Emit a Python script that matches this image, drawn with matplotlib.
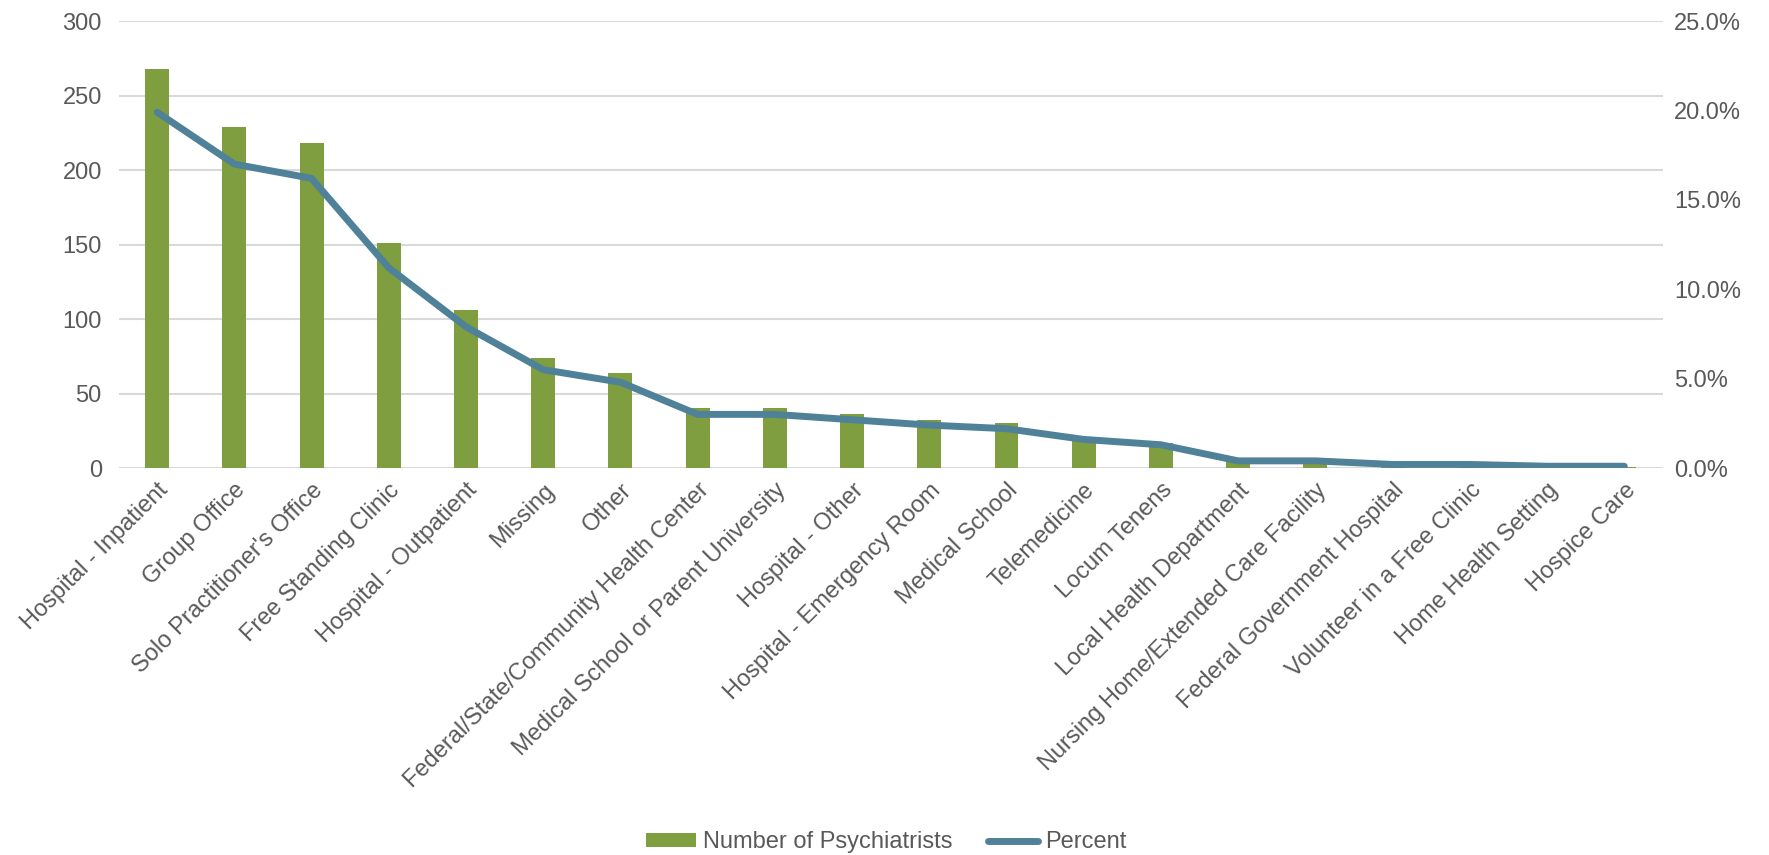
import matplotlib
matplotlib.use("Agg")
import matplotlib.pyplot as plt
from matplotlib.ticker import FuncFormatter, MultipleLocator
from matplotlib.patches import Patch
from matplotlib.lines import Line2D

categories = ["Hospital - Inpatient", "Group Office", "Solo Practitioner's Office",
              "Free Standing Clinic", "Hospital - Outpatient", "Missing", "Other",
              "Federal/State/Community Health Center", "Medical School or Parent University",
              "Hospital - Other", "Hospital - Emergency Room", "Medical School",
              "Telemedicine", "Locum Tenens", "Local Health Department",
              "Nursing Home/Extended Care Facility", "Federal Government Hospital",
              "Volunteer in a Free Clinic", "Home Health Setting", "Hospice Care"]
counts = [268, 229, 218, 151, 106, 74, 64, 40, 40, 36, 32, 30, 21, 17, 5, 5, 3, 3, 1, 1]
percents = [19.9, 17.0, 16.2, 11.2, 7.9, 5.5, 4.8, 3.0, 3.0, 2.7, 2.4, 2.2, 1.6, 1.3,
            0.4, 0.4, 0.2, 0.2, 0.1, 0.1]

plt.rcParams['font.family'] = ['Liberation Sans', 'DejaVu Sans']
txt = '#595959'
bar_c = '#7F9E40'
line_c = '#4F8199'
grid_c = '#D9D9D9'

fig = plt.figure(figsize=(17.69, 8.55), dpi=100)
ax = fig.add_axes([0.067, 0.4526, 0.873, 0.5228])
x = list(range(len(categories)))
ax.bar(x, counts, width=0.31, color=bar_c, zorder=2)
ax.set_xlim(-0.5, len(categories) - 0.5)
ax.set_ylim(0, 300)
ax.yaxis.set_major_locator(MultipleLocator(50))
ax.grid(axis='y', color=grid_c, linewidth=1.5, zorder=0)
ax.set_axisbelow(True)
for s in ax.spines.values():
    s.set_visible(False)
ax.tick_params(axis='both', length=0, labelsize=17, colors=txt)
ax.tick_params(axis='y', pad=12)
ax.set_xticks(x)
ax.set_xticklabels(categories, rotation=45, ha='right', rotation_mode='anchor')
ax.tick_params(axis='x', pad=8)

ax2 = ax.twinx()
ax2.plot(x, percents, color=line_c, linewidth=5, solid_capstyle='round',
         solid_joinstyle='round', zorder=3)
ax2.set_ylim(0, 25)
ax2.yaxis.set_major_locator(MultipleLocator(5))
ax2.yaxis.set_major_formatter(FuncFormatter(lambda v, p: f"{v:.1f}%"))
for s in ax2.spines.values():
    s.set_visible(False)
ax2.tick_params(axis='y', length=0, labelsize=17, colors=txt, pad=8)

handles = [Patch(facecolor=bar_c, edgecolor='none'),
           Line2D([0], [0], color=line_c, linewidth=5, solid_capstyle='round')]
fig.legend(handles, ["Number of Psychiatrists", "Percent"], loc='center',
           bbox_to_anchor=(0.501, 0.015), ncol=2, frameon=False, fontsize=17,
           labelcolor=txt, handlelength=2.1, handleheight=0.5, handletextpad=0.3,
           columnspacing=1.5, borderpad=0.1)

fig.savefig('out.png', dpi=100, facecolor='white')
